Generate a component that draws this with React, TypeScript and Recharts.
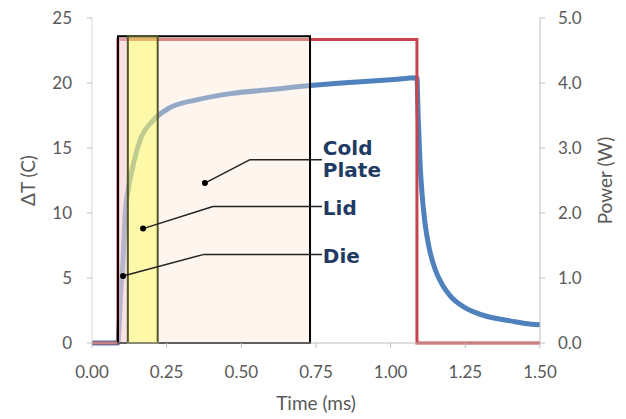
import {
  ComposedChart,
  Line,
  XAxis,
  YAxis,
  ReferenceArea,
  ReferenceLine,
  ReferenceDot,
} from "recharts";

// ΔT trace (ms, °C)
const tempTime = [
  0, 0.087, 0.09, 0.097, 0.104, 0.11, 0.121, 0.134, 0.161, 0.204, 0.261, 0.35,
  0.47, 0.6, 0.73, 0.9, 1.0, 1.088, 1.092, 1.098, 1.105, 1.115, 1.13, 1.15,
  1.175, 1.2, 1.25, 1.3, 1.35, 1.4, 1.45, 1.5,
];
const tempDelta = [
  0, 0, 1, 4.3, 6.4, 9.5, 11.8, 13.3, 15.6, 17.1, 18.1, 18.7, 19.2, 19.5,
  19.8, 20.1, 20.25, 20.4, 17.5, 14, 11.5, 9.2, 7.2, 5.6, 4.4, 3.6, 2.7, 2.2,
  1.9, 1.7, 1.5, 1.4,
];

// heater power (ms, W)
const powerTime = [0, 0.087, 0.087, 1.088, 1.088, 1.5];
const powerWatts = [0, 0, 4.67, 4.67, 0, 0];

// shaded time constants
const zoneStart = [0.087, 0.12, 0.087];
const zoneEnd = [0.73, 0.22, 0.12];
const zoneTop = 23.6;
const zoneFill = ["#fae6d4", "#ffff40", "#edc5d4"];
const zoneStroke = ["#000000", "#55552a", "none"];

// callouts: dot -> bend -> end, label
const calloutNames = [["Cold", "Plate"], ["Lid"], ["Die"]];
const calloutDot: [number, number][] = [
  [0.378, 12.3],
  [0.171, 8.8],
  [0.104, 5.15],
];
const calloutBend: [number, number][] = [
  [0.529, 14.1],
  [0.405, 10.5],
  [0.372, 6.8],
];
const calloutEndT = 0.77;
const calloutTextT = 0.773;
const calloutTextY = [14.46, 9.85, 6.15];

const xTicks = [0, 0.25, 0.5, 0.75, 1.0, 1.25, 1.5];
const leftTicks = [0, 5, 10, 15, 20, 25];
const rightTicks = [0, 1, 2, 3, 4, 5];

const tempData = tempTime.map((t, i) => ({ t, dt: tempDelta[i] }));
const powerData = powerTime.map((t, i) => ({ t, p: powerWatts[i] }));

const tickStyle = { fill: "#595959", fontSize: 17, fontFamily: "Lato" };
const gridGray = "#bfbfbf";

export default function App() {
  return (
    <div style={{ position: "absolute", left: 0, top: 0, background: "#fff" }}>
      <ComposedChart
        width={626}
        height={419}
        margin={{ top: 18, right: 0, bottom: 0, left: 0 }}
      >
        <XAxis
          xAxisId="top"
          orientation="top"
          type="number"
          dataKey="t"
          domain={[0, 1.5]}
          height={0}
          tick={false}
          tickLine={false}
          axisLine={{ stroke: "#a5b5c8" }}
        />
        <XAxis
          type="number"
          dataKey="t"
          domain={[0, 1.5]}
          ticks={xTicks}
          tickFormatter={(v: number) => v.toFixed(2)}
          height={76}
          tick={tickStyle}
          tickSize={5}
          tickMargin={18}
          axisLine={{ stroke: gridGray }}
          tickLine={{ stroke: gridGray }}
          label={{
            value: "Time (ms)",
            position: "center",
            dy: 22,
            fill: "#595959",
            fontSize: 19,
            fontFamily: "Lato",
          }}
        />
        <YAxis
          yAxisId="left"
          domain={[0, 25]}
          ticks={leftTicks}
          width={92}
          tick={tickStyle}
          tickSize={5}
          tickMargin={15}
          axisLine={{ stroke: "#d9d9d9" }}
          tickLine={{ stroke: gridGray }}
          label={{
            value: "ΔT (C)",
            angle: -90,
            position: "center",
            dx: -18,
            fill: "#595959",
            fontSize: 19,
            fontFamily: "Lato",
          }}
        />
        <YAxis
          yAxisId="right"
          orientation="right"
          domain={[0, 5]}
          ticks={rightTicks}
          tickFormatter={(v: number) => v.toFixed(1)}
          width={86}
          tick={tickStyle}
          tickSize={5}
          tickMargin={13}
          axisLine={{ stroke: gridGray }}
          tickLine={{ stroke: gridGray }}
          label={{
            value: "Power (W)",
            angle: -90,
            position: "center",
            dx: 22,
            fill: "#595959",
            fontSize: 19,
            fontFamily: "Lato",
          }}
        />

        <Line
          yAxisId="left"
          data={tempData}
          dataKey="dt"
          type="monotone"
          stroke="#4f81bd"
          strokeWidth={5}
          dot={false}
          isAnimationActive={false}
        />
        <Line
          yAxisId="right"
          data={powerData}
          dataKey="p"
          type="linear"
          stroke="#c8434c"
          strokeWidth={3}
          dot={false}
          isAnimationActive={false}
        />

        {zoneStart.map((s, i) => (
          <ReferenceArea
            key={"z" + i}
            yAxisId="left"
            x1={s}
            x2={zoneEnd[i]}
            y1={0}
            y2={zoneTop}
            fill={zoneFill[i]}
            fillOpacity={0.4}
            stroke="none"
            zIndex={450}
          />
        ))}
        {zoneStart.map((s, i) =>
          zoneStroke[i] === "none" ? null : (
            <ReferenceArea
              key={"b" + i}
              yAxisId="left"
              x1={s}
              x2={zoneEnd[i]}
              y1={0}
              y2={zoneTop}
              fill="none"
              stroke={zoneStroke[i]}
              strokeWidth={2}
              zIndex={460}
            />
          )
        )}

        {calloutDot.map((d, i) => (
          <ReferenceLine
            key={"s" + i}
            yAxisId="left"
            segment={[
              { x: d[0], y: d[1] },
              { x: calloutBend[i][0], y: calloutBend[i][1] },
            ]}
            stroke="#222"
            strokeWidth={1.5}
            zIndex={470}
          />
        ))}
        {calloutBend.map((b, i) => (
          <ReferenceLine
            key={"h" + i}
            yAxisId="left"
            segment={[
              { x: b[0], y: b[1] },
              { x: calloutEndT, y: b[1] },
            ]}
            stroke="#222"
            strokeWidth={1.5}
            zIndex={470}
          />
        ))}
        {calloutDot.map((d, i) => (
          <ReferenceDot
            key={"d" + i}
            yAxisId="left"
            x={d[0]}
            y={d[1]}
            r={3}
            fill="#000"
            stroke="none"
            zIndex={480}
          />
        ))}
        {calloutNames.map((lines, i) => (
          <ReferenceDot
            key={"t" + i}
            yAxisId="left"
            x={calloutTextT}
            y={calloutTextY[i]}
            r={0}
            zIndex={490}
            shape={(p: any) => (
              <text
                x={p.cx}
                y={p.cy}
                fill="#1f3b63"
                fontSize={20}
                fontWeight="bold"
                fontFamily="DejaVu Sans"
              >
                {lines.map((ln, j) => (
                  <tspan key={j} x={p.cx} dy={j === 0 ? 0 : 22}>
                    {ln}
                  </tspan>
                ))}
              </text>
            )}
          />
        ))}
      </ComposedChart>
    </div>
  );
}
